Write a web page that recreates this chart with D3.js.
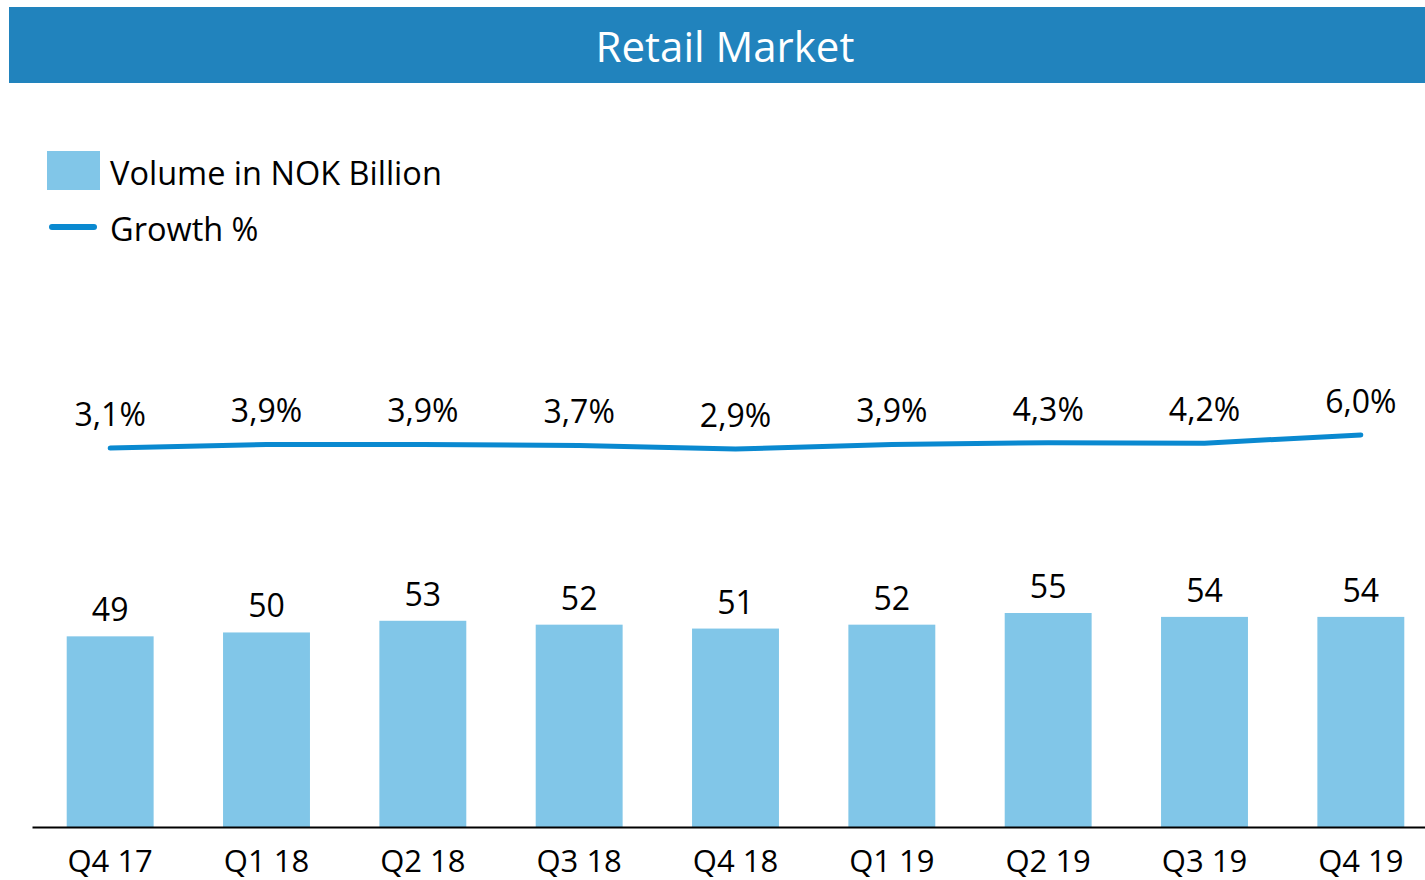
<html>
  <head>
    <title>Retail Market</title>
    <script src="https://d3js.org/d3.v7.min.js"></script>
    <style>
      body {
        margin: 0;
        background-color: #fff;
        font-family: "Open Sans", sans-serif;
      }
      svg text {
        fill: #000;
      }
    </style>
  </head>
  <body>
    <svg width="1425" height="880"></svg>

    <script>
      // data
      var quarters = ["Q4 17", "Q1 18", "Q2 18", "Q3 18", "Q4 18", "Q1 19", "Q2 19", "Q3 19", "Q4 19"];
      var volume = [49, 50, 53, 52, 51, 52, 55, 54, 54];
      var growth = [3.1, 3.9, 3.9, 3.7, 2.9, 3.9, 4.3, 4.2, 6.0];
      var growthLabels = ["3,1%", "3,9%", "3,9%", "3,7%", "2,9%", "3,9%", "4,3%", "4,2%", "6,0%"];

      var barColor = "#81c6e8";
      var lineColor = "#0a89d0";

      var svg = d3.select("svg");

      // title band
      svg.append("rect")
        .attr("x", 9).attr("y", 7)
        .attr("width", 1416).attr("height", 76)
        .attr("fill", "#2183bd");
      svg.append("text")
        .attr("x", 725).attr("y", 62)
        .attr("text-anchor", "middle")
        .style("fill", "#fff")
        .style("font-size", "42px")
        .text("Retail Market");

      // scales
      var x = d3.scaleBand()
        .domain(quarters)
        .range([32, 1439])
        .paddingInner(0.444)
        .paddingOuter(0.222);

      var y = d3.scaleLinear().domain([0, 55]).range([827, 613]);
      var yg = d3.scaleLinear().domain([2.9, 6.0]).range([449, 435]);

      // bars
      svg.selectAll(".bar")
        .data(volume)
        .enter().append("rect")
        .attr("class", "bar")
        .attr("x", function(d, i){ return x(quarters[i]); })
        .attr("y", function(d){ return y(d); })
        .attr("width", x.bandwidth())
        .attr("height", function(d){ return y(0) - y(d); })
        .attr("fill", barColor);

      svg.selectAll(".barlabel")
        .data(volume)
        .enter().append("text")
        .attr("class", "barlabel")
        .attr("x", function(d, i){ return x(quarters[i]) + x.bandwidth() / 2; })
        .attr("y", function(d){ return y(d) - 15; })
        .attr("text-anchor", "middle")
        .style("font-size", "32px")
        .text(function(d){ return d; });

      // x axis
      var axis = svg.append("g")
        .attr("transform", "translate(0,827)")
        .call(d3.axisBottom(x).tickSize(0).tickPadding(0));
      axis.select(".domain").attr("stroke", "#000").attr("stroke-width", 2);
      axis.selectAll(".tick text")
        .attr("dy", null)
        .attr("y", 45)
        .style("font-size", "31px")
        .style("font-family", "Open Sans, sans-serif")
        .attr("fill", "#000");

      // growth line
      var line = d3.line()
        .x(function(d, i){ return x(quarters[i]) + x.bandwidth() / 2; })
        .y(function(d){ return yg(d); });

      svg.append("path")
        .datum(growth)
        .attr("d", line)
        .attr("fill", "none")
        .attr("stroke", lineColor)
        .attr("stroke-width", 5)
        .attr("stroke-linecap", "round")
        .attr("stroke-linejoin", "round");

      svg.selectAll(".glabel")
        .data(growth)
        .enter().append("text")
        .attr("class", "glabel")
        .attr("x", function(d, i){ return x(quarters[i]) + x.bandwidth() / 2; })
        .attr("y", function(d){ return yg(d) - 22; })
        .attr("text-anchor", "middle")
        .style("font-size", "32px")
        .text(function(d, i){ return growthLabels[i]; });

      // legend
      svg.append("rect")
        .attr("x", 47).attr("y", 151)
        .attr("width", 53).attr("height", 39)
        .attr("fill", barColor);
      svg.append("text")
        .attr("x", 110).attr("y", 185)
        .style("font-size", "32.5px")
        .text("Volume in NOK Billion");

      svg.append("line")
        .attr("x1", 52).attr("x2", 94)
        .attr("y1", 227).attr("y2", 227)
        .attr("stroke", lineColor)
        .attr("stroke-width", 6)
        .attr("stroke-linecap", "round");
      svg.append("text")
        .attr("x", 110).attr("y", 241)
        .style("font-size", "32.5px")
        .text("Growth %");
    </script>
  </body>
</html>
